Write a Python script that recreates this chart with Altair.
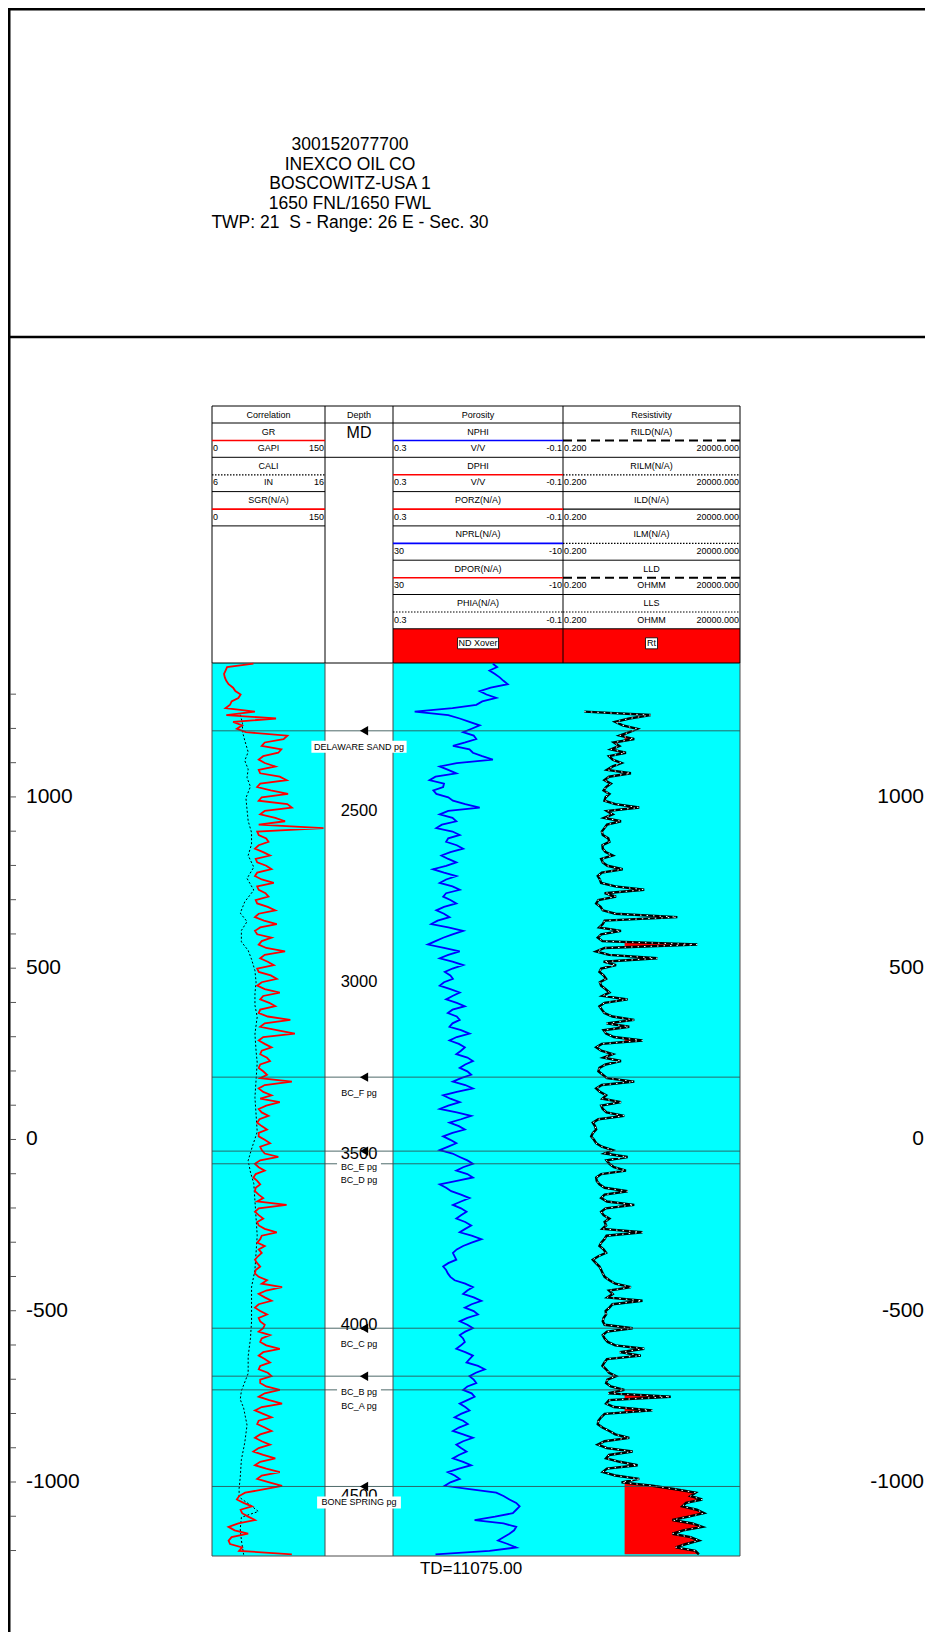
import altair as alt
import pandas as pd

FONT = "Liberation Sans"

# ---------------- data ----------------
WELL_INFO = ["300152077700", "INEXCO OIL CO", "BOSCOWITZ-USA 1",
             "1650 FNL/1650 FWL", "TWP: 21 \u00a0S - Range: 26 E - Sec. 30"]
TD_LABEL = "TD=11075.00"
KB = 3459  # MD - subsea offset

TRACK_TITLES = ["Correlation", "Depth", "Porosity", "Resistivity"]

CORR_CURVES = ["GR", "CALI", "SGR(N/A)"]
CORR_LEFT = ["0", "6", "0"]
CORR_UNIT = ["GAPI", "IN", ""]
CORR_RIGHT = ["150", "16", "150"]
CORR_STYLE = ["red", "dot", "red"]

POR_CURVES = ["NPHI", "DPHI", "PORZ(N/A)", "NPRL(N/A)", "DPOR(N/A)", "PHIA(N/A)"]
POR_LEFT = ["0.3", "0.3", "0.3", "30", "30", "0.3"]
POR_UNIT = ["V/V", "V/V", "", "", "", ""]
POR_RIGHT = ["-0.1", "-0.1", "-0.1", "-10", "-10", "-0.1"]
POR_STYLE = ["blue", "red", "red", "blue", "red", "dot"]

RES_CURVES = ["RILD(N/A)", "RILM(N/A)", "ILD(N/A)", "ILM(N/A)", "LLD", "LLS"]
RES_LEFT = ["0.200"] * 6
RES_UNIT = ["", "", "", "", "OHMM", "OHMM"]
RES_RIGHT = ["20000.000"] * 6
RES_STYLE = ["dash", "dot", "black", "dot", "dash", "dot"]

FILL_LABELS = ["ND Xover", "Rt"]

DEPTH_LABELS = [2500, 3000, 3500, 4000, 4500]
SUBSEA_LABELS = [1000, 500, 0, -500, -1000]
SUBSEA_TICKS = [1300, 1200, 1100, 1000, 900, 800, 700, 600, 500, 400, 300, 200, 100, 0,
                -100, -200, -300, -400, -500, -600, -700, -800, -900, -1000, -1100, -1200]

TOPS_NAME = ["DELAWARE SAND pg", "BC_F pg", "BC_E pg", "BC_D pg", "BC_C pg",
             "BC_B pg", "BC_A pg", "BONE SPRING pg"]
TOPS_MD = [2266, 3277, 3493, 3530, 4010, 4150, 4190, 4472]
TOPS_ARROW = [True, True, True, False, True, True, False, True]

MD_TOP, MD_BOT = 2068, 4675

LOG_MD = list(range(2070, 4671, 10))
GR = [55, 20, 18, 16, 17, 19, 22, 28, 31, 38, 35, 26, 24, 18, 57, 19, 85, 28, 40, 33,
      45, 100, 95, 70, 66, 92, 88, 68, 62, 70, 84, 62, 64, 90, 99, 64, 60, 78, 101, 66,
      62, 100, 106, 70, 64, 84, 97, 62, 148, 60, 62, 72, 75, 62, 57, 68, 77, 58, 60, 72,
      79, 60, 57, 66, 82, 60, 62, 71, 75, 58, 60, 74, 84, 62, 57, 69, 86, 64, 57, 60,
      79, 66, 62, 72, 97, 70, 64, 74, 82, 60, 62, 78, 86, 66, 60, 70, 90, 68, 64, 76,
      84, 64, 62, 74, 104, 70, 64, 86, 110, 68, 62, 70, 79, 66, 64, 73, 77, 64, 62, 68,
      73, 64, 106, 70, 62, 68, 79, 64, 90, 72, 62, 66, 75, 63, 60, 66, 73, 62, 62, 70,
      77, 64, 66, 70, 88, 64, 57, 62, 70, 58, 55, 60, 64, 58, 57, 62, 68, 60, 99, 62,
      57, 62, 68, 60, 62, 70, 86, 66, 64, 60, 70, 62, 66, 61, 57, 60, 64, 58, 57, 62,
      73, 66, 93, 72, 62, 70, 79, 62, 57, 64, 73, 62, 64, 70, 68, 62, 77, 66, 64, 72,
      90, 68, 62, 70, 77, 64, 62, 74, 79, 64, 64, 72, 90, 70, 62, 76, 93, 66, 57, 68,
      79, 62, 60, 70, 79, 64, 57, 66, 77, 62, 55, 68, 84, 64, 57, 72, 90, 66, 60, 76,
      93, 70, 44, 36, 33, 42, 53, 38, 40, 48, 57, 35, 22, 30, 48, 26, 22, 24, 40, 36,
      106]
NPHI = [.065, .055, .073, .060, .049, .040, .030, .070, .096, .080, .057, .090, .104, .160, .249, .170, .143, .120, .096, .115,
        .135, .110, .104, .130, .159, .120, .112, .090, .065, .150, .190, .170, .151, .200, .214, .180, .182, .205, .198, .170,
        .159, .130, .096, .170, .190, .160, .151, .185, .198, .160, .143, .170, .175, .150, .135, .165, .186, .170, .151, .175,
        .206, .180, .151, .175, .190, .160, .143, .175, .182, .165, .151, .180, .198, .180, .167, .195, .210, .170, .135, .160,
        .182, .200, .218, .180, .143, .170, .190, .160, .135, .160, .178, .165, .159, .180, .190, .165, .143, .160, .175, .150,
        .131, .160, .171, .150, .143, .160, .167, .140, .120, .150, .167, .145, .131, .140, .151, .125, .112, .130, .143, .125,
        .116, .140, .159, .130, .112, .150, .182, .165, .143, .170, .190, .150, .116, .140, .167, .145, .131, .160, .182, .165,
        .151, .170, .190, .160, .143, .125, .112, .135, .151, .125, .112, .150, .190, .175, .163, .140, .120, .140, .159, .140,
        .127, .140, .151, .130, .116, .130, .143, .115, .092, .115, .135, .150, .159, .155, .151, .170, .182, .175, .171, .165,
        .155, .130, .112, .125, .135, .110, .092, .115, .131, .110, .100, .125, .143, .125, .112, .130, .143, .135, .131, .140,
        .151, .130, .112, .120, .127, .100, .084, .105, .120, .110, .104, .125, .135, .115, .108, .125, .143, .130, .120, .140,
        .155, .135, .124, .145, .159, .135, .112, .135, .151, .140, .127, .145, .159, .135, .116, .145, .171, .155, .143, .165,
        .178, .120, .057, .040, .026, .010, .002, .010, .018, .060, .108, .040, .010, .015, .026, .040, .053, .030, .010, .073,
        .200]

RES_MD = LOG_MD[14:]
RES = [0.8, 60, 14.9, 6.0, 9.7, 25, 14.9, 8.0, 20.6, 5.5, 7.8, 4.5, 12.0, 4.0, 5.07, 9.0, 5.07, 3.5, 16.6, 4.0,
       2.96, 4.5, 3.30, 2.8, 4.09, 3.2, 2.96, 6.0, 28.4, 3.5, 5.07, 2.9, 8.7, 3.5, 2.96, 2.5, 2.66, 3.8, 4.09, 2.6,
       2.66, 3.2, 5.07, 2.4, 2.66, 3.6, 9.7, 2.5, 1.92, 2.2, 2.39, 6.0, 39.4, 3.0, 6.3, 2.0, 1.73, 2.3, 2.66, 6.0,
       340, 3.0, 2.66, 2.1, 8.7, 2.4, 1.92, 2.6, 1239, 3.0, 1.73, 4.0, 93, 2.8, 6.3, 2.4, 2.14, 2.8, 3.30, 2.2,
       2.39, 3.2, 4.09, 2.6, 13.4, 3.0, 2.14, 2.5, 2.96, 5.0, 20.6, 3.4, 14.9, 2.8, 3.30, 5.5, 35.2, 2.5, 1.73, 2.4,
       5.07, 2.8, 8.7, 3.2, 2.14, 2.0, 2.66, 3.5, 20.6, 2.5, 1.73, 2.2, 3.30, 2.6, 8.7, 2.4, 2.66, 3.4, 10.8, 2.0,
       1.39, 1.6, 1.73, 1.4, 1.25, 1.5, 1.73, 2.5, 5.07, 3.0, 13.4, 3.4, 4.09, 5.5, 12.0, 2.4, 1.73, 1.8, 2.14, 3.0,
       13.4, 3.0, 2.39, 3.5, 20.6, 3.2, 2.39, 2.8, 4.09, 3.0, 3.30, 2.6, 35.2, 3.4, 2.96, 2.4, 2.14, 2.8, 3.30, 2.0,
       1.39, 1.7, 2.14, 2.4, 2.66, 3.0, 4.09, 6.0, 16.6, 4.0, 5.07, 3.6, 35.2, 5.0, 4.09, 3.2, 3.30, 2.8, 2.66, 3.0,
       18.5, 3.5, 2.66, 3.0, 3.67, 6.0, 39.4, 8.0, 31.7, 3.5, 2.96, 2.6, 3.30, 4.0, 6.3, 3.6, 3.30, 4.5, 10.8, 3.8,
       221, 4.0, 3.30, 5.5, 67, 3.0, 2.39, 2.0, 1.92, 2.6, 4.09, 6.0, 14.9, 3.0, 1.92, 3.5, 18.5, 4.0, 3.30, 8.0,
       25.6, 3.5, 2.66, 6.0, 28.4, 9.0, 67, 300, 1112, 800, 1714, 600, 470, 1200, 1906, 700, 246, 900, 1714, 500,
       246, 800, 1380, 600, 306, 1100, 1380]
RT_BASE = 11                                  # Rt shading baseline (ohm-m)
RT_FILL_AT = [2290, 2890, 3170, 4210, 4250]   # isolated shaded spikes (MD)
RT_FILL_FROM = 4470                           # continuous shading below this MD

CALI_MD = [2219, 2244, 2269, 2294, 2328, 2353, 2378, 2403, 2429, 2462,
           2496, 2529, 2563, 2597, 2630, 2664, 2697, 2731, 2765, 2798,
           2823, 2849, 2882, 2907, 2933, 2966, 3000, 3033, 3067, 3101,
           3151, 3201, 3235, 3285, 3336, 3386, 3437, 3487, 3521, 3554,
           3588, 3638, 3689, 3739, 3789, 3840, 3890, 3941, 3991, 4041,
           4092, 4142, 4193, 4218, 4243, 4293, 4344, 4394, 4445, 4478,
           4503, 4529, 4545, 4562, 4596, 4629, 4671]
CALI = [8.5, 8.7, 8.7, 8.9, 9.2, 8.9, 9.2, 9.1, 9.4, 9.0,
        9.1, 9.2, 9.5, 9.5, 9.2, 9.7, 9.1, 9.7, 8.9, 8.5,
        9.1, 8.6, 8.6, 9.2, 9.5, 9.8, 9.9, 9.8, 9.8, 10.0,
        9.8, 9.9, 10.0, 9.9, 9.8, 9.9, 10.0, 9.5, 9.2, 9.4,
        9.7, 9.8, 9.9, 10.0, 9.9, 9.8, 9.5, 9.5, 9.5, 9.4,
        9.2, 9.2, 8.6, 8.5, 8.8, 9.1, 8.9, 8.6, 8.5, 8.4,
        8.4, 9.5, 10.1, 8.6, 8.5, 8.6, 8.8]

# ---------------- layout (pixels inside the chart) ----------------
W, H = 917, 1624
X0, X1, X2, X3, X4 = 204, 317, 385, 555, 732
COLS = [X0, X1, X2, X3, X4]
HDR_TOP, TITLE_BOT = 398, 415
ROW_H = 34.3
DATA_TOP, DATA_BOT = 655, 1548
CYAN, RED, BLUE = "#00ffff", "#ff0000", "#0000ff"
LINE_STYLES = {
    "red": dict(color=RED, width=1.6),
    "blue": dict(color=BLUE, width=1.6),
    "black": dict(color="black", width=1.2),
    "dot": dict(color="black", width=1.2, dash=[1.5, 1.5]),
    "dash": dict(color="black", width=2.0, dash=[9, 5]),
}

ONE = [{"k": 0}]


def base():
    return alt.Chart(alt.Data(values=ONE))


def rule(x1, y1, x2, y2, color="black", width=1.0, dash=None, opacity=1.0):
    props = dict(color=color, strokeWidth=width, opacity=opacity)
    if dash is not None:
        props["strokeDash"] = dash
    return base().mark_rule(**props).encode(
        x=alt.value(x1), y=alt.value(y1), x2=alt.value(x2), y2=alt.value(y2))


def box(x1, y1, x2, y2, fill, stroke=None, sw=1.0):
    props = dict(fill=fill)
    if stroke is not None:
        props.update(stroke=stroke, strokeWidth=sw)
    return base().mark_rect(**props).encode(
        x=alt.value(x1), y=alt.value(y1), x2=alt.value(x2), y2=alt.value(y2))


def text(s, x, y, size, align="center", color="black"):
    return base().mark_text(text=s, font=FONT, fontSize=size, align=align,
                            baseline="middle", color=color).encode(
        x=alt.value(x), y=alt.value(y))


def Y():
    return alt.Y("MD:Q", axis=None,
                 scale=alt.Scale(domain=[MD_TOP, MD_BOT], range=[DATA_TOP, DATA_BOT],
                                 nice=False, zero=False))


def row_top(k):
    return TITLE_BOT + k * ROW_H


layers = []

# frame and well info
layers += [rule(1.25, 0, 1.25, H, width=2.5),
           rule(0, 1.25, W, 1.25, width=2.5),
           rule(0, 329, W, 329, width=2.5)]
for k, s in enumerate(WELL_INFO):
    layers.append(text(s, 342, 137 + 19.5 * k, 17.5))

# track backgrounds
layers += [box(X0, DATA_TOP, X1, DATA_BOT, CYAN),
           box(X2, DATA_TOP, X4, DATA_BOT, CYAN),
           box(X2, row_top(6), X4, DATA_TOP, RED)]

# header grid
layers += [rule(X0, HDR_TOP, X4, HDR_TOP), rule(X0, TITLE_BOT, X4, TITLE_BOT),
           rule(X0, DATA_TOP, X4, DATA_TOP)]
for x in COLS:
    layers.append(rule(x, HDR_TOP, x, DATA_TOP))
for k in range(1, 4):
    layers.append(rule(X0, row_top(k), X1, row_top(k)))
layers.append(rule(X1, row_top(1), X2, row_top(1)))
for k in range(1, 7):
    layers.append(rule(X2, row_top(k), X4, row_top(k)))

for i, t in enumerate(TRACK_TITLES):
    layers.append(text(t, (COLS[i] + COLS[i + 1]) / 2, (HDR_TOP + TITLE_BOT) / 2, 9))
layers.append(text("MD", (X1 + X2) / 2, 425, 16))


def header_rows(xl, xr, names, lefts, units, rights, styles):
    out = []
    cx = (xl + xr) / 2
    for k, name in enumerate(names):
        r = row_top(k)
        st = LINE_STYLES[styles[k]]
        out.append(text(name, cx, r + 8.5, 9))
        out.append(rule(xl, r + 17.5, xr, r + 17.5, color=st["color"],
                        width=st["width"], dash=st.get("dash")))
        out.append(text(lefts[k], xl + 1, r + 25, 9, align="left"))
        if units[k]:
            out.append(text(units[k], cx, r + 25, 9))
        out.append(text(rights[k], xr - 1, r + 25, 9, align="right"))
    return out


layers += header_rows(X0, X1, CORR_CURVES, CORR_LEFT, CORR_UNIT, CORR_RIGHT, CORR_STYLE)
layers += header_rows(X2, X3, POR_CURVES, POR_LEFT, POR_UNIT, POR_RIGHT, POR_STYLE)
layers += header_rows(X3, X4, RES_CURVES, RES_LEFT, RES_UNIT, RES_RIGHT, RES_STYLE)

# fill labels in the red row
lab_y = row_top(6) + 14.5
nd_w = 41
layers += [box((X2 + X3) / 2 - nd_w / 2, lab_y - 5.5, (X2 + X3) / 2 + nd_w / 2, lab_y + 5.5,
               "white", "black", 0.8),
           text(FILL_LABELS[0], (X2 + X3) / 2, lab_y, 9),
           box((X3 + X4) / 2 - 6, lab_y - 5.5, (X3 + X4) / 2 + 6, lab_y + 5.5,
               "white", "black", 0.8),
           text(FILL_LABELS[1], (X3 + X4) / 2, lab_y, 9)]

# ---------------- log curves ----------------
logs = pd.DataFrame({"MD": LOG_MD, "GR": GR, "NPHI": NPHI})
res = pd.DataFrame({"MD": RES_MD, "R": RES})
cali = pd.DataFrame({"MD": CALI_MD, "CALI": CALI})

RES_SCALE = alt.Scale(type="log", domain=[0.2, 20000], range=[X3, X4], nice=False)
fill_at = "[" + ",".join(str(v) for v in RT_FILL_AT) + "]"

layers.append(alt.Chart(cali).mark_line(color="black", strokeWidth=1, strokeDash=[2, 2]).encode(
    x=alt.X("CALI:Q", axis=None, scale=alt.Scale(domain=[6, 16], range=[X0, X1], nice=False, zero=False)),
    y=Y(), order="MD:Q"))
layers.append(alt.Chart(logs).mark_line(color=RED, strokeWidth=1.8).encode(
    x=alt.X("GR:Q", axis=None, scale=alt.Scale(domain=[0, 150], range=[X0, X1], nice=False, zero=False)),
    y=Y(), order="MD:Q"))
layers.append(alt.Chart(logs).mark_line(color=BLUE, strokeWidth=1.8).encode(
    x=alt.X("NPHI:Q", axis=None, scale=alt.Scale(domain=[0.3, -0.1], range=[X2, X3], nice=False, zero=False)),
    y=Y(), order="MD:Q"))
# Rt shading: baseline -> curve, then the part right of the curve is re-covered by the track colour
layers.append(alt.Chart(res).transform_calculate(
    F=f"(indexof({fill_at}, datum.MD) >= 0 || datum.MD >= {RT_FILL_FROM}) ? max(datum.R, {RT_BASE}) : {RT_BASE}",
    B=f"{RT_BASE}").mark_area(fill=RED, orient="horizontal").encode(
    x=alt.X("F:Q", axis=None, scale=RES_SCALE), x2="B:Q", y=Y()))
layers.append(alt.Chart(res).transform_calculate(E="20000").mark_area(
    fill=CYAN, orient="horizontal").encode(
    x=alt.X("R:Q", axis=None, scale=RES_SCALE), x2="E:Q", y=Y()))
layers.append(alt.Chart(res).mark_line(color="black", strokeWidth=2.4).encode(
    x=alt.X("R:Q", axis=None, scale=RES_SCALE), y=Y(), order="MD:Q"))
layers.append(alt.Chart(res).mark_line(color="white", strokeWidth=1, strokeDash=[1.5, 5]).encode(
    x=alt.X("R:Q", axis=None, scale=RES_SCALE), y=Y(), order="MD:Q"))

# data-area borders
for x in [X0, X1, X2, X4]:
    layers.append(rule(x, DATA_TOP, x, DATA_BOT, color="#4d4d4d"))
layers.append(rule(X0, DATA_BOT, X4, DATA_BOT, color="#4d4d4d"))

# ---------------- depth / subsea labels ----------------
depth_df = pd.DataFrame({"MD": DEPTH_LABELS})
layers.append(alt.Chart(depth_df).transform_calculate(lab="'' + datum.MD").mark_text(
    font=FONT, fontSize=16.5, baseline="middle").encode(
    x=alt.value((X1 + X2) / 2), y=Y(), text="lab:N"))

ticks_df = pd.DataFrame({"SS": SUBSEA_TICKS})
layers.append(alt.Chart(ticks_df).transform_calculate(MD=f"{KB} - datum.SS").mark_rule(
    color="#555555", strokeWidth=1).encode(x=alt.value(2), x2=alt.value(8), y=Y()))
ss_df = pd.DataFrame({"SS": SUBSEA_LABELS})
layers.append(alt.Chart(ss_df).transform_calculate(MD=f"{KB} - datum.SS", lab="'' + datum.SS").mark_text(
    font=FONT, fontSize=21, align="left", baseline="middle").encode(
    x=alt.value(18), y=Y(), text="lab:N"))
layers.append(alt.Chart(ss_df).transform_calculate(MD=f"{KB} - datum.SS", lab="'' + datum.SS").mark_text(
    font=FONT, fontSize=21, align="right", baseline="middle").encode(
    x=alt.value(W - 1), y=Y(), text="lab:N"))

# ---------------- formation tops ----------------
tops = pd.DataFrame({"name": TOPS_NAME, "MD": TOPS_MD, "arrow": TOPS_ARROW})
TOP_X = (X1 + X2) / 2
layers.append(alt.Chart(tops).mark_rule(color="#2f4f4f", strokeWidth=1, opacity=0.85).encode(
    x=alt.value(X0), x2=alt.value(X4), y=Y()))
layers.append(alt.Chart(tops).transform_filter("datum.arrow").mark_point(
    shape="triangle-left", filled=True, color="black", size=90, opacity=1).encode(
    x=alt.value(TOP_X + 5), y=Y()))
layers.append(alt.Chart(tops).transform_calculate(
    bx1=f"{TOP_X} - length(datum.name) * 2.85 - 2",
    bx2=f"{TOP_X} + length(datum.name) * 2.85 + 2").mark_rect(
    fill="white", yOffset=10, y2Offset=22).encode(
    x=alt.X("bx1:Q", scale=None), x2="bx2:Q", y=Y(), y2="MD:Q"))
layers.append(alt.Chart(tops).mark_text(font=FONT, fontSize=9, dy=16, baseline="middle").encode(
    x=alt.value(TOP_X), y=Y(), text="name:N"))

layers.append(text(TD_LABEL, 463, 1561, 17))

chart = alt.layer(*layers).resolve_scale(x="independent").properties(
    width=W, height=H, padding=0, autosize=alt.AutoSizeParams(type="none")
).configure_view(stroke=None).configure(background="white")

chart.save("out.html", embed_options={"renderer": "svg", "actions": False})
